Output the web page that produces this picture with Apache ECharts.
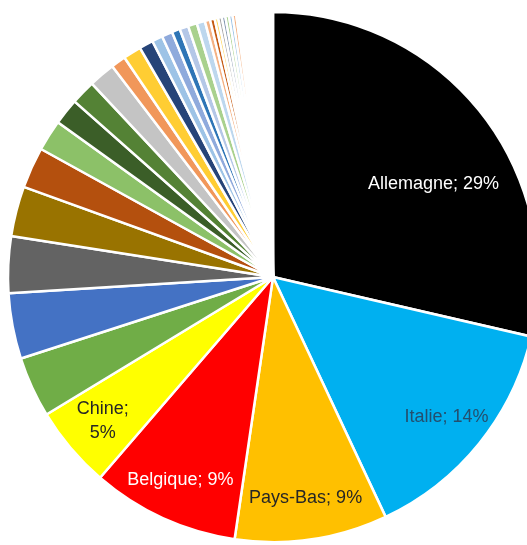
<!DOCTYPE html>
<html><head><meta charset="utf-8">
<script src="https://cdn.jsdelivr.net/npm/echarts@6/dist/echarts.min.js"></script>
<style>html,body{margin:0;padding:0;background:#fff}#c{width:527px;height:545px}</style>
</head><body><div id="c"></div>
<script>
const categories = ['Allemagne','Italie','Pays-Bas','Belgique','Chine','Espagne','Royaume-Uni','États-Unis','Pologne','Suisse',
  'Autriche','Portugal','Tchéquie','Japon','Turquie','Suède','Danemark','Irlande','Hongrie','Inde',
  'Corée du Sud','Roumanie','Slovaquie','Finlande','Norvège','Taïwan','Vietnam','Maroc','Tunisie','Slovénie',
  'Luxembourg','Grèce','Brésil','Canada','Mexique','Thaïlande','Israël','Bulgarie','Croatie','Lituanie',
  'Estonie','Lettonie','Ukraine','Russie','Malaisie','Indonésie','Singapour','Australie','Afrique du Sud','Égypte',
  'Argentine','Chili','Serbie','Islande','Malte'];
const values = [28.6,14.4,9.3,9.0,5.0,3.7,4.0,3.45,3.05,2.5,
  1.9,1.6,1.5,1.6,0.9,1.1,0.85,0.65,0.65,0.5,
  0.53,0.55,0.5,0.32,0.28,0.22,0.22,0.22,0.22,0.22,
  0.22,0.15,0.14,0.13,0.12,0.12,0.11,0.11,0.1,0.1,
  0.1,0.1,0.09,0.09,0.09,0.08,0.08,0.08,0.07,0.07,
  0.07,0.06,0.06,0.05,0.05];
const mainColors = ['#000000','#00b0f0','#ffc000','#ff0000','#ffff00','#70ad47','#4472c4','#636363','#997300','#b4500e',
  '#8cc168','#3b5e28','#548235','#c4c4c4','#f1975a','#ffcd33','#264478','#9dc3e6','#8faadc','#2e75b6',
  '#b4c7e7','#a9d18e','#bdd7ee','#f4b183','#c55a11','#ffd966','#a5a5a5','#8497b0','#a9d18e','#9dc3e6','#f4b183'];
const paleColors = ['#bdd7ee','#c9c9c9','#ffe699','#c5e0b4','#b4c7e7','#f8cbad'];
const labeled = ['Allemagne','Italie','Pays-Bas','Belgique','Chine'];
const labelColors = {'Allemagne':'#ffffff','Italie':'#234f6e','Pays-Bas':'#262626','Belgique':'#ffffff','Chine':'#262626'};

const colorOf = i => i < mainColors.length ? mainColors[i] : paleColors[(i - mainColors.length) % paleColors.length];

const pieData = categories.map((n, i) => ({name: n, value: values[i], itemStyle: {color: colorOf(i)}}));
const labelData = categories.map((n, i) => ({
  name: n, value: values[i],
  label: {show: labeled.indexOf(n) >= 0, color: labelColors[n] || '#262626'}
}));

const chart = echarts.init(document.getElementById('c'), null, {renderer: 'canvas'});
chart.setOption({
  animation: false,
  backgroundColor: '#ffffff',
  series: [
    {
      type: 'pie', center: [273, 277], radius: 265, startAngle: 90, clockwise: true,
      data: pieData, silent: true,
      itemStyle: {borderColor: '#ffffff', borderWidth: 2.5},
      label: {show: false}, labelLine: {show: false}, emphasis: {disabled: true}
    },
    {
      type: 'pie', center: [273, 277], radius: [175, 265], startAngle: 90, clockwise: true,
      data: labelData, silent: true,
      itemStyle: {color: 'rgba(0,0,0,0)', borderWidth: 0},
      labelLine: {show: false}, emphasis: {disabled: true},
      avoidLabelOverlap: false,
      label: {
        position: 'inside', fontFamily: 'Liberation Sans, Arial, sans-serif', fontSize: 18, lineHeight: 24,
        formatter: p => p.name + (p.name === 'Chine' ? ';\n' : '; ') + Math.round(p.percent) + '%'
      },
      labelLayout: p => (p.dataIndex === 0 ? {dx: -14, dy: 46} : {})
    }
  ]
});
</script></body></html>
